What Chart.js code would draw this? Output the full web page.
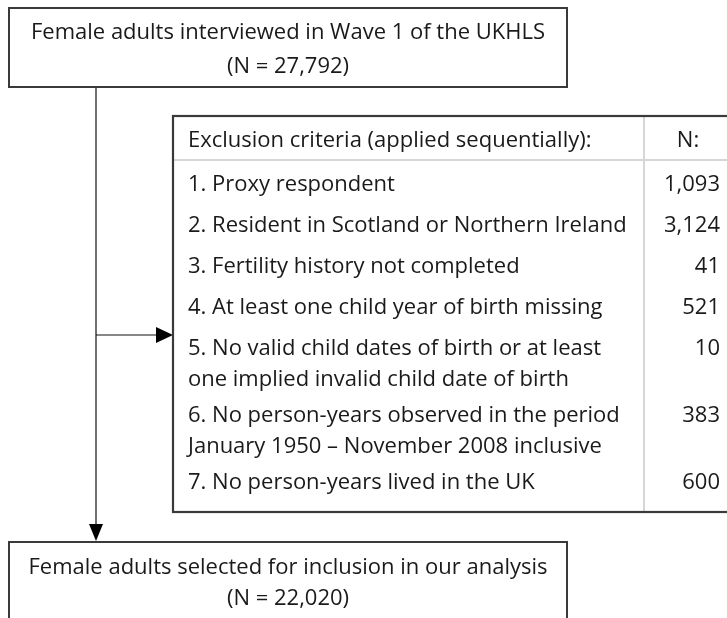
<!DOCTYPE html>
<html>
<head>
<meta charset="utf-8">
<script src="https://cdn.jsdelivr.net/npm/chart.js@4"></script>
<style>
  html, body { margin: 0; padding: 0; background: #fff; }
  canvas { display: block; }
</style>
</head>
<body>
<canvas id="flujo" width="727" height="618"></canvas>
<script>
// data
const topBox = ['Female adults interviewed in Wave 1 of the UKHLS', '(N = 27,792)'];
const bottomBox = ['Female adults selected for inclusion in our analysis', '(N = 22,020)'];
const tableHeader = ['Exclusion criteria (applied sequentially):', 'N:'];
const criteria = [
  ['1. Proxy respondent'],
  ['2. Resident in Scotland or Northern Ireland'],
  ['3. Fertility history not completed'],
  ['4. At least one child year of birth missing'],
  ['5. No valid child dates of birth or at least', 'one implied invalid child date of birth'],
  ['6. No person-years observed in the period', 'January 1950 \u2013 November 2008 inclusive'],
  ['7. No person-years lived in the UK']
];
const excludedN = [1093, 3124, 41, 521, 10, 383, 600];

const FONT = '22px "Open Sans"';
const TEXT = '#1a1a1a';

const flowchart = {
  id: 'flowchart',
  afterDraw(chart) {
    const ctx = chart.ctx;
    const X = v => chart.scales.x.getPixelForValue(v);
    const Y = v => chart.scales.y.getPixelForValue(v);
    ctx.save();

    // connectors
    ctx.strokeStyle = '#111';
    ctx.fillStyle = '#000';
    ctx.lineWidth = 1.2;
    ctx.beginPath();
    ctx.moveTo(X(96), Y(87)); ctx.lineTo(X(96), Y(526));
    ctx.moveTo(X(96), Y(335)); ctx.lineTo(X(158), Y(335));
    ctx.stroke();
    ctx.beginPath();
    ctx.moveTo(X(89), Y(524)); ctx.lineTo(X(103), Y(524)); ctx.lineTo(X(96), Y(541));
    ctx.closePath(); ctx.fill();
    ctx.beginPath();
    ctx.moveTo(X(156), Y(327)); ctx.lineTo(X(156), Y(343)); ctx.lineTo(X(173), Y(335));
    ctx.closePath(); ctx.fill();

    // boxes
    ctx.strokeStyle = '#3a3a3a';
    ctx.lineWidth = 2;
    ctx.strokeRect(X(9), Y(8), X(567) - X(9), Y(87) - Y(8));
    ctx.strokeRect(X(9), Y(542), X(567) - X(9), Y(640) - Y(542));

    ctx.font = FONT;
    ctx.fillStyle = TEXT;
    ctx.textAlign = 'center';
    ctx.textBaseline = 'alphabetic';
    ctx.fillText(topBox[0], X(288), Y(39));
    ctx.fillText(topBox[1], X(288), Y(73));
    ctx.fillText(bottomBox[0], X(288), Y(574));
    ctx.fillText(bottomBox[1], X(288), Y(605));

    // table
    ctx.strokeStyle = '#d6d6d6';
    ctx.lineWidth = 2;
    ctx.beginPath();
    ctx.moveTo(X(174), Y(160)); ctx.lineTo(X(727), Y(160));
    ctx.moveTo(X(644), Y(117)); ctx.lineTo(X(644), Y(511));
    ctx.stroke();
    ctx.strokeStyle = '#3a3a3a';
    ctx.lineWidth = 2.2;
    ctx.strokeRect(X(173), Y(116), X(740) - X(173), Y(512) - Y(116));

    ctx.textAlign = 'left';
    ctx.fillText(tableHeader[0], X(188), Y(147));
    ctx.textAlign = 'center';
    ctx.fillText(tableHeader[1], X(688), Y(147));

    let top = 160;
    criteria.forEach((lines, i) => {
      lines.forEach((t, j) => {
        ctx.textAlign = 'left';
        ctx.fillText(t, X(188), Y(top + 31 + j * 31));
      });
      ctx.textAlign = 'right';
      ctx.fillText(excludedN[i].toLocaleString('en-GB'), X(720), Y(top + 31));
      top += 15 + lines.length * 26;
    });
    ctx.restore();
  }
};

new Chart(document.getElementById('flujo'), {
  type: 'scatter',
  data: { datasets: [{ data: [] }] },
  options: {
    responsive: false,
    animation: false,
    layout: { padding: 0 },
    plugins: { legend: { display: false }, tooltip: { enabled: false } },
    scales: {
      x: { type: 'linear', min: 0, max: 727, display: false },
      y: { type: 'linear', min: 0, max: 618, reverse: true, display: false }
    }
  },
  plugins: [flowchart]
});
</script>
</body>
</html>
